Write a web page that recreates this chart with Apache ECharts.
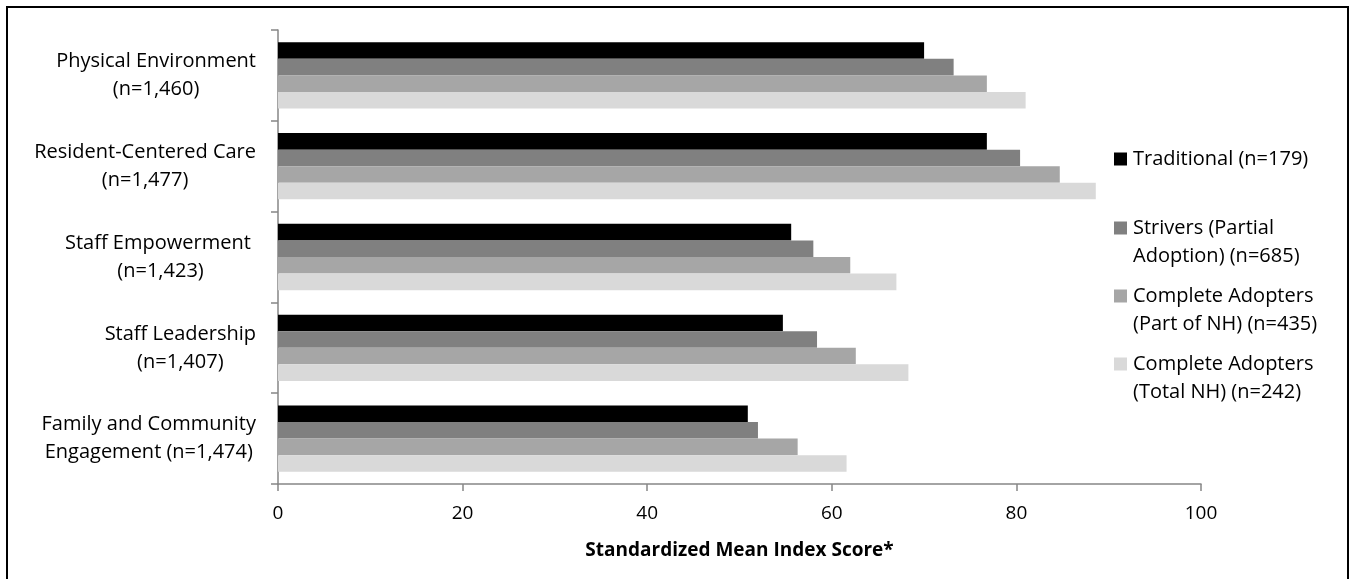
<!DOCTYPE html>
<html>
<head>
<meta charset="utf-8">
<script src="https://cdn.jsdelivr.net/npm/echarts@6/dist/echarts.min.js"></script>
<style>
html,body{margin:0;padding:0;background:#fff;}
#chart{width:1353px;height:579px;}
</style>
</head>
<body>
<div id="chart"></div>
<script>
const categories = [
  "Physical Environment\n(n=1,460)",
  "Resident-Centered Care\n(n=1,477)",
  "Staff Empowerment \n(n=1,423)",
  "Staff Leadership\n(n=1,407)",
  "Family and Community\nEngagement (n=1,474)"
];
const seriesNames = [
  "Traditional (n=179)",
  "Strivers (Partial Adoption) (n=685)",
  "Complete Adopters (Part of NH) (n=435)",
  "Complete Adopters (Total NH) (n=242)"
];
const legendLines = [
  ["Traditional (n=179)"],
  ["Strivers (Partial", "Adoption) (n=685)"],
  ["Complete Adopters", "(Part of NH) (n=435)"],
  ["Complete Adopters", "(Total NH) (n=242)"]
];
const traditional = [70.0, 76.8, 55.6, 54.7, 50.9];
const strivers = [73.2, 80.4, 58.0, 58.4, 52.0];
const partOfNH = [76.8, 84.7, 62.0, 62.6, 56.3];
const totalNH = [81.0, 88.6, 67.0, 68.3, 61.6];
const xTicks = [0, 20, 40, 60, 80, 100];
const axisTitle = "Standardized Mean Index Score*";

const colors = ["#000000", "#808080", "#a6a6a6", "#d9d9d9"];
const values = [traditional, strivers, partOfNH, totalNH];
const FONT = "Open Sans";
const FS = 20;

const legendTops = [149, 218, 286, 354];
const legends = seriesNames.map((name, i) => ({
  show: true,
  data: [name],
  left: 1109,
  top: legendTops[i],
  padding: 0,
  icon: "none",
  itemWidth: 0,
  itemHeight: 12,
  itemGap: 0,
  textGap: 0,
  selectedMode: false,
  formatter: function () {
    const lines = legendLines[i];
    let s = "{sq|}{gap|}{t|" + lines[0] + "}";
    for (let k = 1; k < lines.length; k++) {
      s += "\n{ind|}{t|" + lines[k] + "}";
    }
    return s;
  },
  textStyle: {
    fontFamily: FONT,
    fontSize: FS,
    color: "#000",
    rich: {
      sq: { width: 13, height: 13, backgroundColor: colors[i], lineHeight: 28 },
      gap: { width: 6, lineHeight: 28 },
      ind: { width: 19, lineHeight: 28 },
      t: { fontFamily: FONT, fontSize: FS, color: "#000", lineHeight: 28 }
    }
  }
}));

const chart = echarts.init(document.getElementById("chart"), null, { renderer: "canvas" });
chart.setOption({
  backgroundColor: "#ffffff",
  animation: false,
  textStyle: { fontFamily: FONT },
  legend: legends,
  graphic: [{
    type: "rect",
    shape: { x: 7, y: 7, width: 1341, height: 620 },
    style: { fill: "none", stroke: "#000", lineWidth: 2 },
    silent: true
  }],
  grid: { left: 278, right: 152, top: 30, bottom: 95, containLabel: false },
  xAxis: {
    type: "value",
    min: xTicks[0],
    max: xTicks[xTicks.length - 1],
    interval: xTicks[1] - xTicks[0],
    name: axisTitle,
    nameLocation: "middle",
    nameGap: 57,
    nameTextStyle: { fontFamily: FONT, fontSize: 19, fontWeight: "bold", color: "#000" },
    axisLine: { show: true, lineStyle: { color: "#868686", width: 1.5 } },
    axisTick: { show: true, length: 7, lineStyle: { color: "#868686", width: 1.5 } },
    axisLabel: { fontFamily: FONT, fontSize: 19, color: "#000", margin: 20 },
    splitLine: { show: false }
  },
  yAxis: {
    type: "category",
    data: categories,
    inverse: true,
    axisLine: { show: true, lineStyle: { color: "#868686", width: 1.5 } },
    axisTick: { show: true, length: 7, lineStyle: { color: "#868686", width: 1.5 } },
    axisLabel: {
      align: "right",
      margin: 22,
      color: "#000",
      fontFamily: FONT,
      fontSize: FS,
      formatter: function (v) {
        return v.split("\n").map(l => "{a|" + l + "}").join("\n");
      },
      rich: {
        a: { align: "center", fontFamily: FONT, fontSize: FS, lineHeight: 28, color: "#000" }
      }
    },
    splitLine: { show: false }
  },
  series: seriesNames.map((name, i) => ({
    name: name,
    type: "bar",
    data: values[i],
    itemStyle: { color: colors[i] },
    barGap: "0%",
    barCategoryGap: "27%",
    silent: true
  }))
});
</script>
</body>
</html>
